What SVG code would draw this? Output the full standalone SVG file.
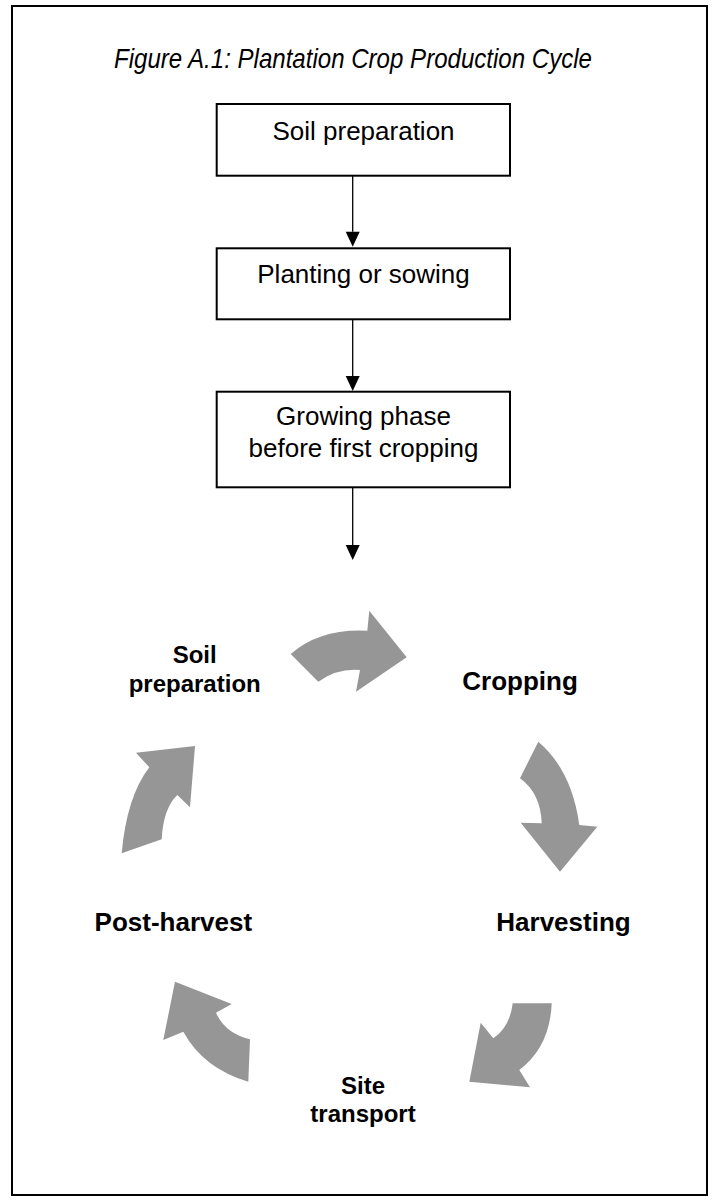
<svg xmlns="http://www.w3.org/2000/svg" width="716" height="1202" viewBox="0 0 716 1202">
<defs>
<style>
.frame{fill:#fff;stroke:#000;stroke-width:2}
.box{fill:#fff;stroke:#000;stroke-width:2}
.bt{font-family:"Liberation Sans",Arial,sans-serif;font-size:26px;fill:#000;text-anchor:middle}
.lb{font-family:"Liberation Sans",Arial,sans-serif;font-weight:bold;fill:#000;text-anchor:middle}
.title{font-family:"Liberation Sans Narrow","Liberation Sans",Arial,sans-serif;font-style:italic;font-size:28px;fill:#000;text-anchor:middle}
.conn{stroke:#000;stroke-width:1.3;fill:none}
.cyc{fill:#969696}
</style>
<marker id="ah" markerWidth="14" markerHeight="15" refX="7" refY="15" orient="auto" markerUnits="userSpaceOnUse" viewBox="0 0 14 15">
<path d="M0,0 L14,0 L7,15 Z" fill="#000"/>
</marker>
</defs>
<rect width="716" height="1202" fill="#fff"/>
<rect class="frame" x="12" y="6" width="695" height="1189"/>
<text class="title" x="353" y="68" textLength="478" lengthAdjust="spacingAndGlyphs">Figure A.1: Plantation Crop Production Cycle</text>

<g id="connectors">
<line class="conn" x1="352.7" y1="176" x2="352.7" y2="231.7"/>
<path d="M345.7,231.7 L359.7,231.7 L352.7,246.7 Z" fill="#000"/>
<line class="conn" x1="352.7" y1="319.3" x2="352.7" y2="376"/>
<path d="M345.7,376 L359.7,376 L352.7,391 Z" fill="#000"/>
<line class="conn" x1="352.7" y1="487.3" x2="352.7" y2="545"/>
<path d="M345.7,545 L359.7,545 L352.7,560 Z" fill="#000"/>
</g>

<g id="box-soil-preparation">
<rect class="box" x="216.7" y="104" width="293.3" height="71.7"/>
<text class="bt" x="363.5" y="140">Soil preparation</text>
</g>
<g id="box-planting">
<rect class="box" x="216.7" y="248.3" width="293.3" height="71"/>
<text class="bt" x="363.5" y="282.7">Planting or sowing</text>
</g>
<g id="box-growing">
<rect class="box" x="216.7" y="391.7" width="293.3" height="95.6"/>
<text class="bt" x="363.5" y="425">Growing phase</text>
<text class="bt" x="363.5" y="456.7">before first cropping</text>
</g>

<g id="cycle-arrows">
<path class="cyc" d="M290.7,654 Q320,628.3 367.3,630.7 L369.3,610.7 L406.7,657.3 L356,691.7 L360,670 Q336.7,668.3 318.3,681.7 Z"/>
<path class="cyc" d="M538.3,741.7 Q571.7,770 579.3,825 L597.3,826.7 L560,871.7 L520.7,822.7 L541.7,823.3 Q540.7,793.3 520,778.3 Z"/>
<path class="cyc" d="M512.7,1003.3 L551.7,1003.3 Q550,1046.7 519.3,1070 L530,1087.3 L469.3,1081.7 L480.7,1022.7 L493.3,1038.3 Q510,1026.7 512.7,1003.3 Z"/>
<path class="cyc" d="M175,981.7 L231.7,1004 L216,1012.7 Q225,1033.3 250,1039.3 L248.3,1081.7 Q203.3,1068.3 183.3,1031.7 L163.3,1040 Z"/>
<path class="cyc" d="M195,746 L190,807.3 L177.3,795 Q163.3,808.3 161.7,839.3 L121.7,853.3 Q126.7,796.7 149.3,767.3 L136,752.7 Z"/>
</g>

<g id="node-soil-preparation">
<text class="lb" x="194.7" y="663.3" font-size="24">Soil</text>
<text class="lb" x="194.7" y="691.7" font-size="24">preparation</text>
</g>
<g id="node-cropping">
<text class="lb" x="520" y="690" font-size="26">Cropping</text>
</g>
<g id="node-harvesting">
<text class="lb" x="563.5" y="930.7" font-size="26">Harvesting</text>
</g>
<g id="node-site-transport">
<text class="lb" x="363" y="1094" font-size="24">Site</text>
<text class="lb" x="363" y="1122" font-size="24">transport</text>
</g>
<g id="node-post-harvest">
<text class="lb" x="173.3" y="930.7" font-size="26">Post-harvest</text>
</g>
</svg>
